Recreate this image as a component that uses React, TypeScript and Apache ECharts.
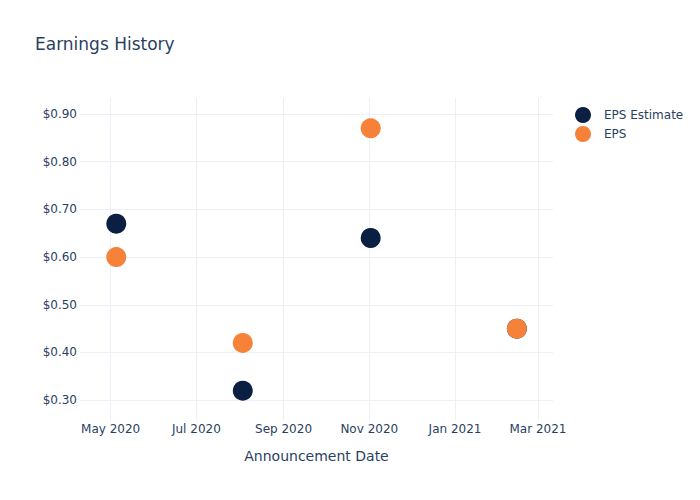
import React, { useEffect, useRef } from "react";
import * as echarts from "echarts";

const announcementDates = ["2020-05-05", "2020-08-03", "2020-11-02", "2021-02-14"];
const epsEstimate = [0.67, 0.32, 0.64, 0.45];
const epsActual = [0.6, 0.42, 0.87, 0.45];
const yTicks = [0.3, 0.4, 0.5, 0.6, 0.7, 0.8, 0.9];
const xTickDates = ["2020-05-01", "2020-07-01", "2020-09-01", "2020-11-01", "2021-01-01", "2021-03-01"];
const monthNames = ["Jan", "Feb", "Mar", "Apr", "May", "Jun", "Jul", "Aug", "Sep", "Oct", "Nov", "Dec"];

const toTs = (s: string) => {
  const [y, m, d] = s.split("-").map(Number);
  return Date.UTC(y, m - 1, d);
};
const DAY = 86400000;

export default function App() {
  const ref = useRef<HTMLDivElement>(null);
  useEffect(() => {
    if (!ref.current) return;
    const chart = echarts.init(ref.current, undefined, { renderer: "svg" });
    const font = "DejaVu Sans, Verdana, sans-serif";
    const textColor = "#2a3f5f";
    const gridColor = "#ebf0f8";
    const xTicks = xTickDates.map(toTs);
    chart.setOption({
      animation: false,
      backgroundColor: "#ffffff",
      textStyle: { fontFamily: font },
      title: {
        text: "Earnings History",
        left: 35,
        top: 35,
        padding: 0,
        textStyle: { fontFamily: font, fontSize: 17, fontWeight: "normal", color: textColor },
      },
      legend: {
        orient: "vertical",
        left: 575,
        top: 107,
        padding: 0,
        itemWidth: 16,
        itemHeight: 16,
        itemGap: 3,
        icon: "circle",
        textStyle: { fontFamily: font, fontSize: 12, color: textColor, padding: [0, 0, 0, 8] },
        data: ["EPS Estimate", "EPS"],
      },
      grid: { left: 80, right: 147, top: 98, bottom: 80, containLabel: false },
      xAxis: {
        type: "value",
        min: toTs("2020-04-09") + 0.2 * DAY,
        max: toTs("2021-03-11") + 0.7 * DAY,
        name: "Announcement Date",
        nameLocation: "middle",
        nameGap: 29,
        nameTextStyle: { fontFamily: font, fontSize: 14, color: textColor },
        axisLine: { show: false },
        axisTick: { show: false, customValues: xTicks },
        axisLabel: {
          customValues: xTicks,
          margin: 3,
          fontFamily: font,
          fontSize: 12,
          color: textColor,
          formatter: (v: number) => {
            const d = new Date(v);
            return monthNames[d.getUTCMonth()] + " " + d.getUTCFullYear();
          },
        },
        splitLine: { show: true, lineStyle: { color: gridColor, width: 1 } },
      },
      yAxis: {
        type: "value",
        min: 0.2585,
        max: 0.9335,
        axisLine: { show: false },
        axisTick: { show: false, customValues: yTicks },
        axisLabel: {
          customValues: yTicks,
          margin: 3,
          fontFamily: font,
          fontSize: 12,
          color: textColor,
          formatter: (v: number) => "$" + v.toFixed(2),
        },
        splitLine: { show: true, lineStyle: { color: gridColor, width: 1 } },
      },
      series: [
        {
          name: "EPS Estimate",
          type: "scatter",
          symbolSize: 20,
          itemStyle: { color: "#0b1f43", opacity: 1 },
          data: announcementDates.map((d, i) => [toTs(d), epsEstimate[i]]),
        },
        {
          name: "EPS",
          type: "scatter",
          symbolSize: 20,
          itemStyle: { color: "#f6823a", opacity: 1 },
          data: announcementDates.map((d, i) => [toTs(d), epsActual[i]]),
        },
      ],
    });
    return () => chart.dispose();
  }, []);
  return (
    <div
      ref={ref}
      style={{ position: "absolute", left: 0, top: 0, width: 700, height: 500 }}
    />
  );
}
